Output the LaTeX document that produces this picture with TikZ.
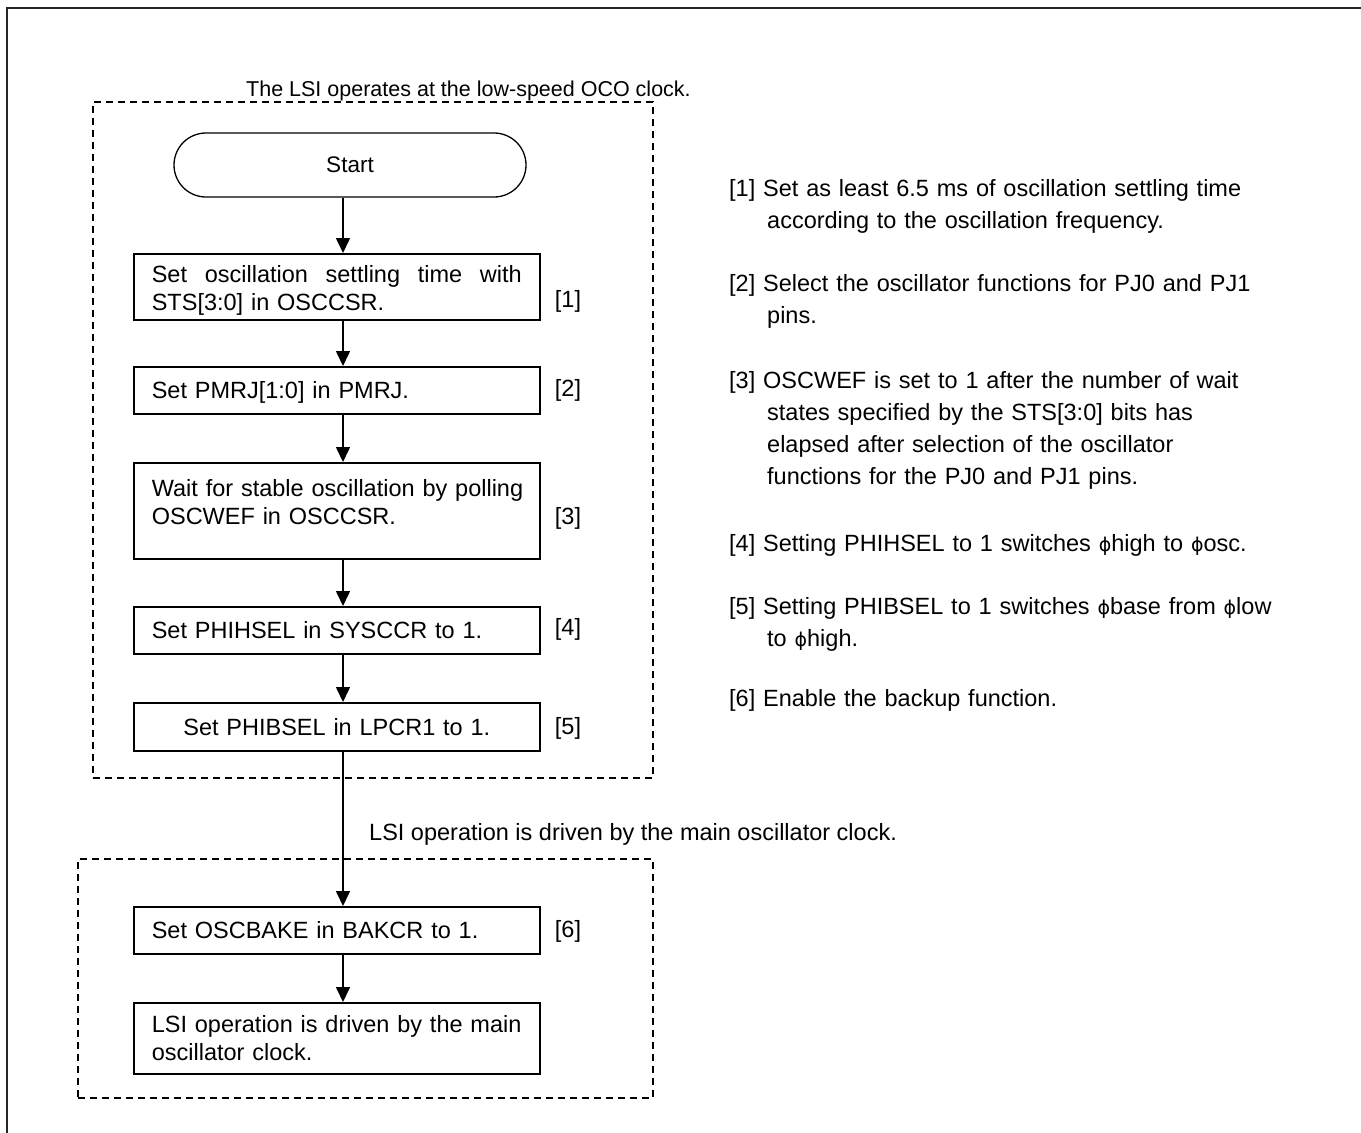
\documentclass[tikz,border=0pt]{standalone}
\usepackage{fontspec}
\setmainfont{Liberation Sans}
\newfontfamily\phifont{DejaVu Sans}
\usetikzlibrary{arrows.meta,shapes.misc}
\newcommand{\ph}{{\phifont\fontsize{19}{19}\selectfont ϕ}}
\begin{document}
\begin{tikzpicture}[x=1pt,y=-1pt,
  font=\fontsize{23.5}{28}\selectfont,
  box/.style={draw, line width=1.6pt, anchor=north west, minimum width=406pt,
    inner xsep=18pt, inner ysep=0pt, text width=370pt, align=left},
  arr/.style={line width=1.6pt, -{Triangle[length=15pt,width=14pt]}},
  grp/.style={draw, line width=1.5pt, dash pattern=on 7pt off 5pt,
    anchor=north west, inner sep=0pt},
  tag/.style={inner sep=0pt},
  note/.style={anchor=base west, inner sep=0pt, text width=620pt, align=left,
    font=\fontsize{23.5}{32}\selectfont},
  lbl/.style={anchor=base west, inner sep=0pt}]
\useasboundingbox (0,0) rectangle (1361,1133);
% outer frame
\draw[line width=2pt, draw=black!85] (7,1140) -- (7,8) -- (1370,8);
% groups
\node[grp, minimum width=560pt, minimum height=676pt] (g1) at (92,101) {};
\node[grp, minimum width=575pt, minimum height=239pt] (g2) at (77,858) {};
\node[lbl, font=\fontsize{21.5}{26}\selectfont] (l1) at (246,96) {The LSI operates at the low-speed OCO clock.};
\node[lbl] (l2) at (369,840) {LSI operation is driven by the main oscillator clock.};
% start
\node[draw, line width=1.3pt, rounded rectangle, minimum width=352pt, minimum height=64pt, inner sep=0pt, font=\fontsize{22.5}{26}\selectfont] (start) at (350,165) {Start};
% boxes
\node[box, text height=28.5pt, text depth=37.5pt] (b1) at (133,253)
  {\hbox to 370pt{Set\hfill oscillation\hfill settling\hfill time\hfill with}\\STS[3:0] in OSCCSR.};
\node[box, text height=32pt, text depth=15pt] (b2) at (133,366) {Set PMRJ[1:0] in PMRJ.};
\node[box, text height=33.5pt, text depth=62.5pt] (b3) at (133,462)
  {\mbox{Wait for stable oscillation by polling}\\OSCWEF in OSCCSR.};
\node[box, text height=32pt, text depth=15pt] (b4) at (133,606) {Set PHIHSEL in SYSCCR to 1.};
\node[box, text height=32.5pt, text depth=15.5pt, align=center] (b5) at (133,702) {Set PHIBSEL in LPCR1 to 1.};
\node[box, text height=32pt, text depth=15pt] (b6) at (133,906) {Set OSCBAKE in BAKCR to 1.};
\node[box, text height=29.5pt, text depth=41.5pt] (b7) at (133,1002)
  {LSI operation is driven by the main\\oscillator clock.};
% tags
\node[tag] (t1) at (568,301) {[1]};
\node[tag] (t2) at (568,390) {[2]};
\node[tag] (t3) at (568,518) {[3]};
\node[tag] (t4) at (568,629) {[4]};
\node[tag] (t5) at (568,728) {[5]};
\node[tag] (t6) at (568,931) {[6]};
% arrows
\coordinate (ax) at (343,0);
\draw[arr] (start.south -| ax) -- (b1.north -| ax);
\draw[arr] (b1.south -| ax) -- (b2.north -| ax);
\draw[arr] (b2.south -| ax) -- (b3.north -| ax);
\draw[arr] (b3.south -| ax) -- (b4.north -| ax);
\draw[arr] (b4.south -| ax) -- (b5.north -| ax);
\draw[arr] (b5.south -| ax) -- (b6.north -| ax);
\draw[arr] (b6.south -| ax) -- (b7.north -| ax);
% notes
\node[note] (n1) at (729,196) {[1] Set as least 6.5 ms of oscillation settling time\\\hspace*{38pt}according to the oscillation frequency.};
\node[note] (n2) at (729,291) {[2] Select the oscillator functions for PJ0 and PJ1\\\hspace*{38pt}pins.};
\node[note] (n3) at (729,388) {[3] OSCWEF is set to 1 after the number of wait\\\hspace*{38pt}states specified by the STS[3:0] bits has\\\hspace*{38pt}elapsed after selection of the oscillator\\\hspace*{38pt}functions for the PJ0 and PJ1 pins.};
\node[note] (n4) at (729,551) {[4] Setting PHIHSEL to 1 switches \ph high to \ph osc.};
\node[note] (n5) at (729,614) {[5] Setting PHIBSEL to 1 switches \ph base from \ph low\\\hspace*{38pt}to \ph high.};
\node[note] (n6) at (729,706) {[6] Enable the backup function.};
\end{tikzpicture}
\end{document}
